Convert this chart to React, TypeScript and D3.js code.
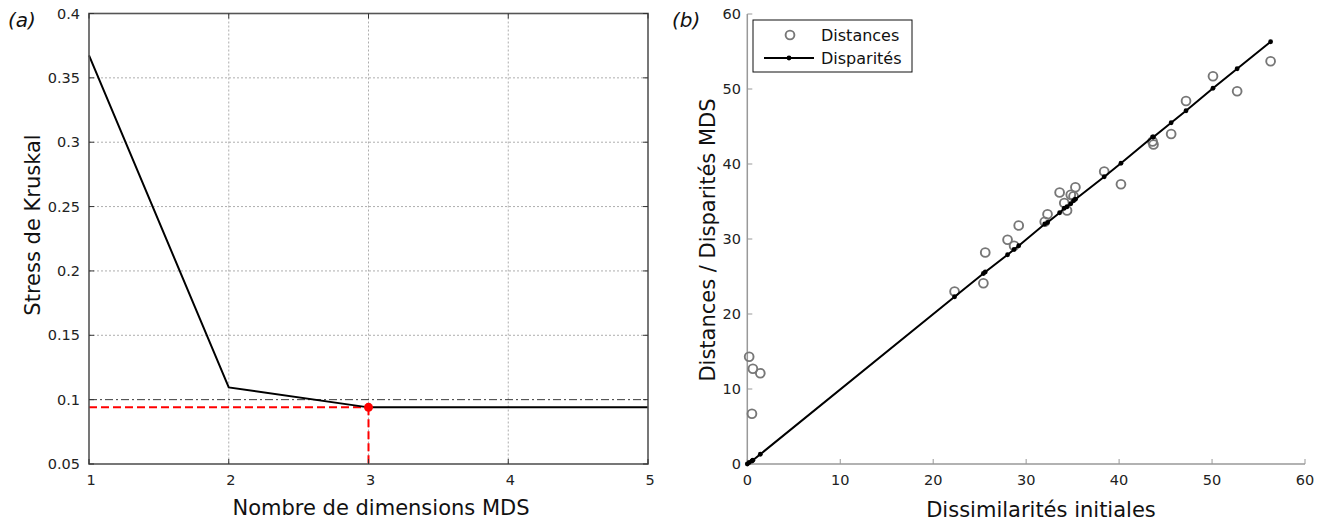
import React from "react";
import * as d3 from "d3";

// Panel (a) data
const dims = [1, 2, 3, 4, 5];
const stress = [0.3675, 0.1095, 0.094, 0.094, 0.094];
const stressThreshold = 0.1;
const chosenDim = 3;
const aXTicks = [1, 2, 3, 4, 5];
const aYTicks = [0.05, 0.1, 0.15, 0.2, 0.25, 0.3, 0.35, 0.4];

// Panel (b) data
const dissim = [0.2, 0.5, 0.6, 1.4, 22.3, 25.4, 25.6, 28.0, 28.7, 29.2, 32.0, 32.3, 33.6, 34.1, 34.4, 34.8, 35.3, 35.1, 38.4, 40.2, 43.6, 43.7, 45.6, 47.2, 50.1, 52.7, 56.3];
const distances = [14.3, 6.7, 12.7, 12.1, 23.0, 24.1, 28.2, 29.9, 29.1, 31.8, 32.3, 33.3, 36.2, 34.8, 33.8, 35.9, 36.9, 35.7, 39.0, 37.3, 43.0, 42.6, 44.0, 48.4, 51.7, 49.7, 53.7];
const disparities = [0.2, 0.4, 0.5, 1.3, 22.3, 25.4, 25.6, 27.9, 28.6, 29.1, 32.0, 32.2, 33.5, 34.1, 34.3, 34.7, 35.3, 35.1, 38.3, 40.1, 43.6, 43.6, 45.5, 47.1, 50.1, 52.7, 56.3];
const bXTicks = [0, 10, 20, 30, 40, 50, 60];
const bYTicks = [0, 10, 20, 30, 40, 50, 60];

const FONT = "DejaVu Sans, sans-serif";

export default function App() {
  const W = 1330, H = 523;
  // panel a
  const ax = d3.scaleLinear().domain([1, 5]).range([89, 648]);
  const ay = d3.scaleLinear().domain([0.05, 0.4]).range([464, 13.5]);
  const aLine = d3.line<number>().x((_, i) => ax(dims[i])).y((d) => ay(d));
  const chosenIdx = dims.indexOf(chosenDim);

  // panel b
  const bx = d3.scaleLinear().domain([0, 60]).range([747.3, 1305]);
  const by = d3.scaleLinear().domain([0, 60]).range([464, 14]);
  const order = d3.range(dissim.length).sort((a, b) => dissim[a] - dissim[b]);
  const bLineData: [number, number][] = [[0, 0], ...order.map((i) => [dissim[i], disparities[i]] as [number, number])];
  const bLine = d3.line<[number, number]>().x((d) => bx(d[0])).y((d) => by(d[1]));

  const tickColor = "#222";
  const tickFs = 14.5;
  const titleFs = 21;
  return (
    <svg width={W} height={H} style={{ position: "absolute", left: 0, top: 0, background: "#fff" }} fontFamily={FONT}>
      {/* ---------- Panel (a) ---------- */}
      <text x={8} y={27} fontSize={20} fontStyle="italic" fill="#111">(a)</text>
      {/* grid */}
      {aXTicks.filter((t) => t > 1 && t < 5).map((t) => (
        <line key={"agx" + t} x1={ax(t)} x2={ax(t)} y1={ay(0.4)} y2={ay(0.05)} stroke="#999" strokeWidth={0.8} strokeDasharray="2,2" />
      ))}
      {aYTicks.filter((t) => t > 0.05 && t < 0.4 && Math.abs(t - stressThreshold) > 1e-9).map((t) => (
        <line key={"agy" + t} x1={ax(1)} x2={ax(5)} y1={ay(t)} y2={ay(t)} stroke="#999" strokeWidth={0.8} strokeDasharray="2,2" />
      ))}
      {/* threshold dash-dot */}
      <line x1={ax(1)} x2={ax(5)} y1={ay(stressThreshold)} y2={ay(stressThreshold)} stroke="#222" strokeWidth={0.9} strokeDasharray="8,3,2,3" />
      {/* red dashed guides */}
      <line x1={ax(1)} x2={ax(chosenDim)} y1={ay(stress[chosenIdx])} y2={ay(stress[chosenIdx])} stroke="#ff0000" strokeWidth={2} strokeDasharray="8,4" />
      <line x1={ax(chosenDim)} x2={ax(chosenDim)} y1={ay(stress[chosenIdx])} y2={ay(0.05)} stroke="#ff0000" strokeWidth={2} strokeDasharray="8,4" />
      {/* stress line */}
      <path d={aLine(stress) || ""} fill="none" stroke="#000" strokeWidth={2} />
      <circle cx={ax(chosenDim)} cy={ay(stress[chosenIdx])} r={4.5} fill="#ff0000" />
      {/* box */}
      <rect x={ax(1)} y={ay(0.4)} width={ax(5) - ax(1)} height={ay(0.05) - ay(0.4)} fill="none" stroke="#555" strokeWidth={1.6} />
      {/* ticks */}
      {aXTicks.map((t) => (
        <g key={"axt" + t}>
          <line x1={ax(t)} x2={ax(t)} y1={ay(0.05)} y2={ay(0.05) - 5} stroke="#333" strokeWidth={1} />
          <line x1={ax(t)} x2={ax(t)} y1={ay(0.4)} y2={ay(0.4) + 5} stroke="#333" strokeWidth={1} />
          <text x={ax(t) + 2} y={485} fontSize={tickFs} textAnchor="middle" fill={tickColor}>{t}</text>
        </g>
      ))}
      {aYTicks.map((t) => (
        <g key={"ayt" + t}>
          <line x1={ax(1)} x2={ax(1) + 5} y1={ay(t)} y2={ay(t)} stroke="#333" strokeWidth={1} />
          <line x1={ax(5)} x2={ax(5) - 5} y1={ay(t)} y2={ay(t)} stroke="#333" strokeWidth={1} />
          <text x={80} y={ay(t) + 5} fontSize={tickFs} textAnchor="end" fill={tickColor}>{d3.format("~g")(t)}</text>
        </g>
      ))}
      <text x={381} y={515} fontSize={titleFs} textAnchor="middle" fill="#111">Nombre de dimensions MDS</text>
      <text transform={`translate(40,225) rotate(-90)`} fontSize={titleFs} textAnchor="middle" fill="#111">Stress de Kruskal</text>

      {/* ---------- Panel (b) ---------- */}
      <text x={672} y={27} fontSize={20} fontStyle="italic" fill="#111">(b)</text>
      {/* axes */}
      <line x1={bx(0)} x2={bx(60)} y1={by(0)} y2={by(0)} stroke="#999" strokeWidth={1.5} />
      <line x1={bx(0)} x2={bx(0)} y1={by(0)} y2={by(60)} stroke="#999" strokeWidth={1.5} />
      {bXTicks.map((t) => (
        <g key={"bxt" + t}>
          <line x1={bx(t)} x2={bx(t)} y1={by(0)} y2={by(0) - 5} stroke="#999" strokeWidth={1} />
          <text x={bx(t)} y={485} fontSize={tickFs} textAnchor="middle" fill={tickColor}>{t}</text>
        </g>
      ))}
      {bYTicks.map((t) => (
        <g key={"byt" + t}>
          <line x1={bx(0)} x2={bx(0) + 5} y1={by(t)} y2={by(t)} stroke="#999" strokeWidth={1} />
          <text x={741} y={by(t) + 5} fontSize={tickFs} textAnchor="end" fill={tickColor}>{t}</text>
        </g>
      ))}
      {/* distances circles */}
      {dissim.map((d, i) => (
        <circle key={"c" + i} cx={bx(d)} cy={by(distances[i])} r={4.4} fill="none" stroke="#777" strokeWidth={1.9} />
      ))}
      {/* disparities line */}
      <path d={bLine(bLineData) || ""} fill="none" stroke="#000" strokeWidth={2} />
      {bLineData.map((d, i) => (
        <circle key={"d" + i} cx={bx(d[0])} cy={by(d[1])} r={2.4} fill="#000" />
      ))}
      {/* legend */}
      <rect x={753} y={20} width={159} height={52} fill="#fff" stroke="#111" strokeWidth={1} />
      <circle cx={790} cy={35} r={4.4} fill="none" stroke="#777" strokeWidth={1.9} />
      <text x={821} y={41} fontSize={16} fill="#111">Distances</text>
      <line x1={764} x2={814} y1={58} y2={58} stroke="#000" strokeWidth={2} />
      <circle cx={789} cy={58} r={2.4} fill="#000" />
      <text x={821} y={64} fontSize={16} fill="#111">Disparités</text>
      <text x={1041} y={517} fontSize={titleFs} textAnchor="middle" fill="#111">Dissimilarités initiales</text>
      <text transform={`translate(715,240) rotate(-90)`} fontSize={titleFs} textAnchor="middle" fill="#111">Distances / Disparités MDS</text>
    </svg>
  );
}
